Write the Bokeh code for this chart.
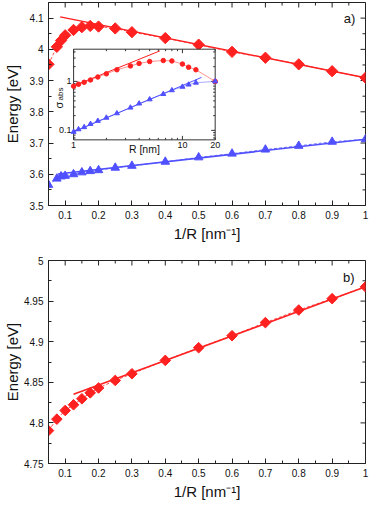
import math
from bokeh.plotting import figure
from bokeh.layouts import column
from bokeh.models import Range1d, LogScale, FixedTicker, PrintfTickFormatter
from bokeh.core.properties import value
from bokeh.embed import file_html
from bokeh.resources import INLINE

# ---------------- data ----------------
# panel a) : energy vs 1/R
inv_r_a = [0.05, 0.075, 0.0875, 0.1, 0.125, 0.15, 0.175, 0.2, 0.25, 0.3, 0.4, 0.5, 0.6, 0.7, 0.8, 0.9, 1.0]
energy_a_red = [3.952, 4.008, 4.028, 4.045, 4.062, 4.071, 4.075, 4.073, 4.067, 4.055, 4.036, 4.015, 3.992, 3.973, 3.952, 3.930, 3.909]
energy_a_blue = [3.566, 3.586, 3.593, 3.595, 3.600, 3.606, 3.610, 3.613, 3.621, 3.627, 3.640, 3.654, 3.666, 3.679, 3.691, 3.704, 3.712]
fit_a_red_x = [0.085, 1.0]
fit_a_red_y = [4.104, 3.909]
fit_a_blue_x = [0.078, 1.0]
fit_a_blue_y = [3.601, 3.712]

# inset : sigma_abs vs R (log-log)
inset_r = [1.0, 1.11, 1.25, 1.43, 1.67, 2.0, 2.5, 3.33, 4.0, 5.0, 6.67, 8.0, 10.0, 11.4, 13.3, 20.0]
sigma_red = [0.80, 0.875, 0.96, 1.07, 1.23, 1.43, 1.73, 2.07, 2.33, 2.55, 2.67, 2.62, 2.26, 1.95, 1.73, 1.0]
sigma_blue = [0.093, 0.105, 0.116, 0.135, 0.156, 0.181, 0.223, 0.291, 0.353, 0.429, 0.551, 0.658, 0.776, 0.86, 0.94, 1.0]
fit_in_red_x = [1.0, 6.2]
fit_in_red_y = [0.81, 4.2]
fit_in_blue_x = [1.0, 15.0]
fit_in_blue_y = [0.093, 1.21]

# panel b)
inv_r_b = [0.05, 0.075, 0.1, 0.125, 0.15, 0.175, 0.2, 0.25, 0.3, 0.4, 0.5, 0.6, 0.7, 0.8, 0.9, 1.0]
energy_b = [4.7905, 4.8046, 4.8153, 4.8223, 4.8297, 4.8370, 4.8430, 4.8523, 4.8605, 4.877, 4.8926, 4.9074, 4.9235, 4.939, 4.953, 4.9676]
fit_b_x = [0.125, 1.0]
fit_b_y = [4.8352, 4.9676]

# ticks
x_ticks = [0.1, 0.2, 0.3, 0.4, 0.5, 0.6, 0.7, 0.8, 0.9, 1.0]
x_minor = [0.05, 0.15, 0.25, 0.35, 0.45, 0.55, 0.65, 0.75, 0.85, 0.95]
ya_ticks = [3.5, 3.6, 3.7, 3.8, 3.9, 4.0, 4.1]
ya_minor = [3.55, 3.65, 3.75, 3.85, 3.95, 4.05, 4.15]
yb_ticks = [4.75, 4.8, 4.85, 4.9, 4.95, 5.0]
yb_minor = [4.775, 4.825, 4.875, 4.925, 4.975]
inset_x_major = [1, 10]
inset_x_minor = [2, 3, 4, 5, 6, 7, 8, 9, 20]
inset_y_major = [0.1, 1]
inset_y_minor = [0.07, 0.08, 0.09, 0.2, 0.3, 0.4, 0.5, 0.6, 0.7, 0.8, 0.9, 2, 3, 4]
inset_x_labels = ["1", "10", "20"]
inset_x_label_pos = [1, 10, 20]
inset_y_labels = ["0.1", "1"]
inset_y_label_pos = [0.1, 1]

RED = "#ff2020"
BLUE = "#5050ff"
AX = "#222222"
FONT = "Liberation Sans"
W = 369
LEFT = 42
RIGHT = 4


def style_axis(ax, ticks, minor):
    ax.ticker = FixedTicker(ticks=ticks, minor_ticks=minor)
    ax.formatter = PrintfTickFormatter(format="%.3g")
    ax.major_tick_in = 5
    ax.major_tick_out = 0
    ax.minor_tick_in = 3
    ax.minor_tick_out = 0
    ax.axis_line_color = AX
    ax.major_tick_line_color = AX
    ax.minor_tick_line_color = AX
    ax.major_label_text_font = FONT
    ax.major_label_text_color = "#111111"
    ax.major_label_text_font_size = "10px"
    ax.major_label_standoff = 5
    ax.axis_label_text_font = FONT
    ax.axis_label_text_font_size = "15px"
    ax.axis_label_text_font_style = "normal"
    ax.axis_label_text_color = "#111111"


def mirror_ticks(p, xr, yr, yticks, yminor):
    # inward ticks on the top and right frame edges
    for xs, ln in ((x_ticks, 5), (x_minor, 3)):
        p.ray(x=xs, y=[yr[1]] * len(xs), length=ln, length_units="screen",
              angle=-math.pi / 2, line_color=AX, line_width=1)
    for ys, ln in ((yticks, 5), (yminor, 3)):
        p.ray(x=[xr[1]] * len(ys), y=ys, length=ln, length_units="screen",
              angle=math.pi, line_color=AX, line_width=1)


def make_panel(height, top_border, yr, yticks, yminor, y_title_standoff):
    xr = (0.05, 1.0)
    p = figure(width=W, height=height, x_range=Range1d(*xr), y_range=Range1d(*yr),
               output_backend="svg", toolbar_location=None,
               min_border_left=LEFT, min_border_right=RIGHT,
               min_border_top=top_border, min_border_bottom=36)
    p.grid.visible = False
    p.outline_line_color = AX
    p.background_fill_color = "white"
    style_axis(p.xaxis[0], x_ticks, x_minor)
    style_axis(p.yaxis[0], yticks, yminor)
    p.xaxis[0].axis_label = "1/R [nm\u207b\u00b9]"
    p.xaxis[0].axis_label_standoff = 3
    p.yaxis[0].axis_label = "Energy [eV]"
    p.yaxis[0].axis_label_standoff = y_title_standoff
    mirror_ticks(p, xr, yr, yticks, yminor)
    return p


# ---------------- panel a ----------------
p1 = make_panel(244, 2, (3.5, 4.15), ya_ticks, ya_minor, 6)

p1.line(inv_r_a, energy_a_red, line_color=RED, line_width=0.8, line_dash="3 2")
p1.line(fit_a_red_x, fit_a_red_y, line_color=RED, line_width=1.5)
p1.scatter(inv_r_a, energy_a_red, marker="square", angle=math.pi / 4, size=8,
           fill_color=RED, line_color=RED)

p1.line(inv_r_a, energy_a_blue, line_color=BLUE, line_width=0.8, line_dash="3 2")
p1.line(fit_a_blue_x, fit_a_blue_y, line_color=BLUE, line_width=1.5)
p1.scatter(inv_r_a, energy_a_blue, marker="triangle", size=8.5,
           fill_color=BLUE, line_color=BLUE)

p1.text(x=[0.952], y=[4.1], text=["a)"], text_align="center", text_baseline="middle",
        text_font=value(FONT), text_font_size="13px", text_color="#111111")

# inset, placed via extra log ranges
IX0, IX1 = 1.0, 20.0
IY0, IY1 = 0.064, 4.55
BOX_L, BOX_R, BOX_B, BOX_T = 0.0792, 0.5258, 0.3234, 0.770


def extend(lo, hi, f0, f1):
    a, b = math.log10(lo), math.log10(hi)
    span = (b - a) / (f1 - f0)
    s = a - f0 * span
    return 10 ** s, 10 ** (s + span)


p1.extra_x_ranges = {"ix": Range1d(*extend(IX0, IX1, BOX_L, BOX_R))}
p1.extra_y_ranges = {"iy": Range1d(*extend(IY0, IY1, BOX_B, BOX_T))}
p1.extra_x_scales = {"ix": LogScale()}
p1.extra_y_scales = {"iy": LogScale()}
rn = dict(x_range_name="ix", y_range_name="iy")

p1.quad(left=[IX0], right=[IX1], bottom=[IY0], top=[IY1], fill_color="white",
        line_color="#333333", line_width=1, **rn)

# inset ticks
for xs, ln in ((inset_x_major, 4), (inset_x_minor, 2)):
    p1.ray(x=xs, y=[IY0] * len(xs), length=ln, length_units="screen", angle=math.pi / 2,
           line_color="#333333", line_width=1, **rn)
    p1.ray(x=xs, y=[IY1] * len(xs), length=ln, length_units="screen", angle=-math.pi / 2,
           line_color="#333333", line_width=1, **rn)
for ys, ln in ((inset_y_major, 4), (inset_y_minor, 2)):
    p1.ray(x=[IX0] * len(ys), y=ys, length=ln, length_units="screen", angle=0,
           line_color="#333333", line_width=1, **rn)
    p1.ray(x=[IX1] * len(ys), y=ys, length=ln, length_units="screen", angle=math.pi,
           line_color="#333333", line_width=1, **rn)

p1.text(x=inset_x_label_pos, y=[IY0] * 3, text=inset_x_labels, text_align="center",
        text_baseline="top", y_offset=2, text_font=value(FONT), text_font_size="9px",
        text_color="#111111", **rn)
p1.text(x=[IX0] * 2, y=inset_y_label_pos, text=inset_y_labels, text_align="right",
        text_baseline="middle", x_offset=-2, text_font=value(FONT), text_font_size="9px",
        text_color="#111111", **rn)
p1.text(x=[math.sqrt(IX0 * IX1)], y=[IY0], text=["R [nm]"], text_align="center",
        text_baseline="middle", y_offset=9, text_font=value(FONT), text_font_size="10.5px",
        text_color="#111111", **rn)
YC = math.sqrt(IY0 * IY1)
p1.text(x=[IX0], y=[YC], text=["\u03c3"], angle=math.pi / 2, text_align="left",
        text_baseline="middle", x_offset=-15, y_offset=14, text_font=value(FONT),
        text_font_size="11px", text_color="#111111", **rn)
p1.text(x=[IX0], y=[YC], text=["abs"], angle=math.pi / 2, text_align="left",
        text_baseline="middle", x_offset=-13, y_offset=6, text_font=value(FONT),
        text_font_size="8px", text_color="#111111", **rn)

# inset data
p1.line(inset_r, sigma_red, line_color=RED, line_width=0.7, line_alpha=0.7, **rn)
p1.line(fit_in_red_x, fit_in_red_y, line_color=RED, line_width=1, **rn)
p1.scatter(inset_r, sigma_red, marker="circle", size=4.5, fill_color=RED, line_color=RED, **rn)
p1.line(inset_r, sigma_blue, line_color=BLUE, line_width=0.7, line_alpha=0.7, **rn)
p1.line(fit_in_blue_x, fit_in_blue_y, line_color=BLUE, line_width=1, **rn)
p1.scatter(inset_r, sigma_blue, marker="triangle", size=5, fill_color=BLUE, line_color=BLUE, **rn)

# ---------------- panel b ----------------
p2 = make_panel(258, 16, (4.75, 5.0), yb_ticks, yb_minor, 0)
p2.line(inv_r_b, energy_b, line_color=RED, line_width=0.8, line_dash="3 2")
p2.line(fit_b_x, fit_b_y, line_color=RED, line_width=1.5)
p2.scatter(inv_r_b, energy_b, marker="square", angle=math.pi / 4, size=7.5,
           fill_color=RED, line_color=RED)
p2.text(x=[0.95], y=[4.9786], text=["b)"], text_align="center", text_baseline="middle",
        text_font=value(FONT), text_font_size="13px", text_color="#111111")

layout = column(p1, p2)
open("out.html", "w").write(file_html(layout, INLINE))
